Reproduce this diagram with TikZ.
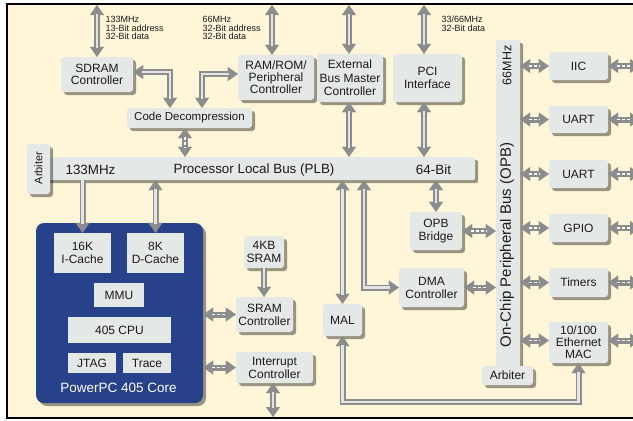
\documentclass[tikz,border=0pt]{standalone}
\usepackage{fontspec}
\setmainfont{Liberation Sans}
\usetikzlibrary{arrows.meta,shadows}
\definecolor{cream}{HTML}{FFF5D8}
\definecolor{boxfill}{HTML}{E4E9E7}
\definecolor{coreblue}{HTML}{27428B}
\definecolor{pipegray}{HTML}{8C8C8C}
\definecolor{pipelight}{HTML}{E4E4E4}
\definecolor{txt}{HTML}{1A1A1A}
\tikzset{
  Pipetip/.tip={Triangle[length=10pt,width=14pt,line width=0.01pt]},
  pipe2/.style={draw=pipegray, line width=6pt, {Pipetip}-{Pipetip},
    postaction={draw=pipelight, line width=2.2pt, arrows=-, shorten <=9pt, shorten >=9pt}},
  pipe1/.style={draw=pipegray, line width=6pt, -{Pipetip},
    postaction={draw=pipelight, line width=2.2pt, arrows=-, shorten >=9pt}},
  pipedash/.style={draw=pipegray, line width=6pt, {Pipetip}-{Pipetip},
    postaction={draw=white, line width=1.5pt, arrows=-, dash pattern=on 3pt off 2pt, shorten <=9pt, shorten >=9pt}},
  box/.style={rectangle, rounded corners=3pt, fill=boxfill, inner sep=0pt, align=center, text=txt,
    font=\fontsize{12}{13}\selectfont,
    drop shadow={shadow xshift=3pt, shadow yshift=-3pt, fill=black, opacity=0.4}},
  inbox/.style={rectangle, fill=boxfill, inner sep=0pt, align=center, text=txt,
    font=\fontsize{12}{13}\selectfont},
  lbl/.style={inner sep=0pt, align=left, anchor=north west, text=txt,
    font=\fontsize{9}{8.6}\selectfont},
  bustext/.style={inner sep=0pt, text=txt, font=\fontsize{13.4}{14}\selectfont}
}
\begin{document}
\begin{tikzpicture}[x=1pt,y=-1pt]
\useasboundingbox (0,0) rectangle (633,421);
\fill[white] (0,0) rectangle (633,421);
\fill[cream] (7,4) rectangle (633,418);
\draw[line width=2pt] (633,4) -- (7,4) -- (7,418) -- (633,418);

% buses
\node[box, rounded corners=2pt, minimum width=430pt, minimum height=23pt] (plb) at (260,168.5) {};
\node[box, minimum width=23pt, minimum height=50pt] (arb1) at (38.5,169) {};
\node[bustext, rotate=90, font=\fontsize{11}{12}\selectfont] (arb1t) at (38.5,168) {Arbiter};
\node[bustext] (plbmhz) at (90.5,170) {133MHz};
\node[bustext] (plbname) at (254,170) {Processor Local Bus (PLB)};
\node[bustext] (plbbit) at (433.5,170) {64-Bit};

\node[box, rounded corners=2pt, minimum width=24pt, minimum height=330pt] (opb) at (508,205) {};
\node[bustext, rotate=90, font=\fontsize{15}{16}\selectfont] (opbname) at (507,245) {On-Chip Peripheral Bus (OPB)};
\node[bustext, rotate=90, font=\fontsize{12.5}{14}\selectfont] (opbmhz) at (507,65.5) {66MHz};
\node[box, minimum width=51pt, minimum height=19pt] (arb2) at (507.5,375.5) {Arbiter};

% top blocks
\node[box, minimum width=72pt, minimum height=35pt, font=\fontsize{12}{11.5}\selectfont] (sdram) at (97,74.5) {SDRAM\\Controller};
\node[box, minimum width=76pt, minimum height=45pt, font=\fontsize{12}{11.8}\selectfont] (ram) at (276,77.5) {RAM/ROM/\\Peripheral\\Controller};
\node[box, minimum width=66pt, minimum height=48pt, font=\fontsize{12}{13.5}\selectfont] (ext) at (350,78) {External\\Bus Master\\Controller};
\node[box, minimum width=69pt, minimum height=48pt] (pci) at (427.5,78) {PCI\\Interface};
\node[box, minimum width=125pt, minimum height=20pt, font=\fontsize{11.5}{13}\selectfont] (code) at (189.5,118) {Code Decompression};

\node[lbl] (sdlbl) at (105.5,16) {133MHz\\13-Bit address\\32-Bit data};
\node[lbl] (ramlbl) at (202.5,16) {66MHz\\32-Bit address\\32-Bit data};
\node[lbl] (pcilbl) at (441.5,16) {33/66MHz\\32-Bit data};

% core
\node[rectangle, rounded corners=8pt, fill=coreblue, minimum width=167pt, minimum height=180pt,
  drop shadow={shadow xshift=3pt, shadow yshift=-3pt, fill=black, opacity=0.4}] (core) at (119.5,313) {};
\node[inbox, minimum width=57pt, minimum height=40pt] (icache) at (82.5,253) {16K\\I-Cache};
\node[inbox, minimum width=57pt, minimum height=40pt] (dcache) at (155.5,253) {8K\\D-Cache};
\node[inbox, minimum width=50pt, minimum height=24pt] (mmu) at (119,295) {MMU};
\node[inbox, minimum width=103pt, minimum height=26pt] (cpu) at (119.5,330) {405 CPU};
\node[inbox, minimum width=48pt, minimum height=20pt] (jtag) at (92,363) {JTAG};
\node[inbox, minimum width=48pt, minimum height=20pt] (trace) at (147,363) {Trace};
\node[inner sep=0pt, text=white, font=\fontsize{13.5}{15}\selectfont] (corename) at (118.5,388) {PowerPC 405 Core};

% middle blocks
\node[box, minimum width=40pt, minimum height=32pt] (sram4) at (264,252) {4KB\\SRAM};
\node[box, minimum width=57pt, minimum height=35pt] (sramc) at (264.5,314.5) {SRAM\\Controller};
\node[box, minimum width=77pt, minimum height=31pt] (intc) at (274.5,367.5) {Interrupt\\Controller};
\node[box, minimum width=39pt, minimum height=32pt] (mal) at (342.5,320) {MAL};
\node[box, minimum width=52pt, minimum height=38pt] (opbb) at (436,231) {OPB\\Bridge};
\node[box, minimum width=65pt, minimum height=39pt] (dma) at (431.5,287.5) {DMA\\Controller};

% peripherals
\node[box, minimum width=59pt, minimum height=28pt] (iic) at (578.5,66) {IIC};
\node[box, minimum width=59pt, minimum height=27pt] (uarta) at (578.5,119.5) {UART};
\node[box, minimum width=59pt, minimum height=28pt] (uartb) at (578.5,174) {UART};
\node[box, minimum width=59pt, minimum height=28pt] (gpio) at (578.5,228) {GPIO};
\node[box, minimum width=59pt, minimum height=29pt] (timers) at (578.5,282.5) {Timers};
\node[box, minimum width=59pt, minimum height=41pt, font=\fontsize{12}{12}\selectfont] (eth) at (578.5,342.5) {10/100\\Ethernet\\MAC};

% coordinates
\coordinate (sdtop) at (97,5);
\coordinate (ramtop) at (272,5);
\coordinate (exttop) at (349,5);
\coordinate (pcitop) at (424,5);
\coordinate (redge) at (640,0);
\coordinate (intbot) at (273,417);
\coordinate (malbend) at (342.5,402);
\coordinate (dmax) at (364,0);

% connectors
\draw[pipe2] (sdtop) -- (sdram.north);
\draw[pipe2] (ramtop) -- (ramtop |- ram.north);
\draw[pipe2] (exttop) -- (exttop |- ext.north);
\draw[pipe2] (pcitop) -- (pcitop |- pci.north);
\draw[pipe2] (exttop |- ext.south) -- (exttop |- plb.north);
\draw[pipe2] (pcitop |- pci.south) -- (pcitop |- plb.north);
\draw[pipedash] ([xshift=-4.5pt]code.south) -- ([xshift=-4.5pt]code.south |- plb.north);
\draw[pipe2] (sdram.east |- 0,72) -| ([xshift=-19.5pt]code.north);
\draw[pipe2] (ram.west |- 0,74) -| ([xshift=12.5pt]code.north);
\draw[pipe1] (icache.north |- plb.south) -- (icache.north);
\draw[pipe2] (dcache.north |- plb.south) -- (dcache.north);
\draw[pipe2] (mal.north |- plb.south) -- (mal.north);
\draw[pipe2] (dmax |- plb.south) |- (dma.west);
\draw[pipe2] (opbb.north |- plb.south) -- (opbb.north);
\draw[pipedash] (opbb.east) -- (opbb.east -| opb.west);
\draw[pipedash] (dma.east) -- (dma.east -| opb.west);
\foreach \p in {iic,uarta,uartb,gpio,timers} {
  \draw[pipedash] (\p.west -| opb.east) -- (\p.west);
  \draw[pipedash] (\p.east) -- (\p.east -| redge);
}
\draw[pipedash] ([yshift=2pt]eth.west -| opb.east) -- ([yshift=2pt]eth.west);
\draw[pipedash] ([yshift=2pt]eth.east) -- ([yshift=2pt]eth.east -| redge);
\draw[pipedash] (sramc.west -| core.east) -- (sramc.west);
\draw[pipedash] (intc.west -| core.east) -- (intc.west);
\draw[pipe1] (sram4.south) -- (sram4.south |- sramc.north);
\draw[pipe2] (intbot |- intc.south) -- (intbot);
\draw[pipe2] (mal.south) -- (malbend) -| (eth.south);
\end{tikzpicture}
\end{document}
